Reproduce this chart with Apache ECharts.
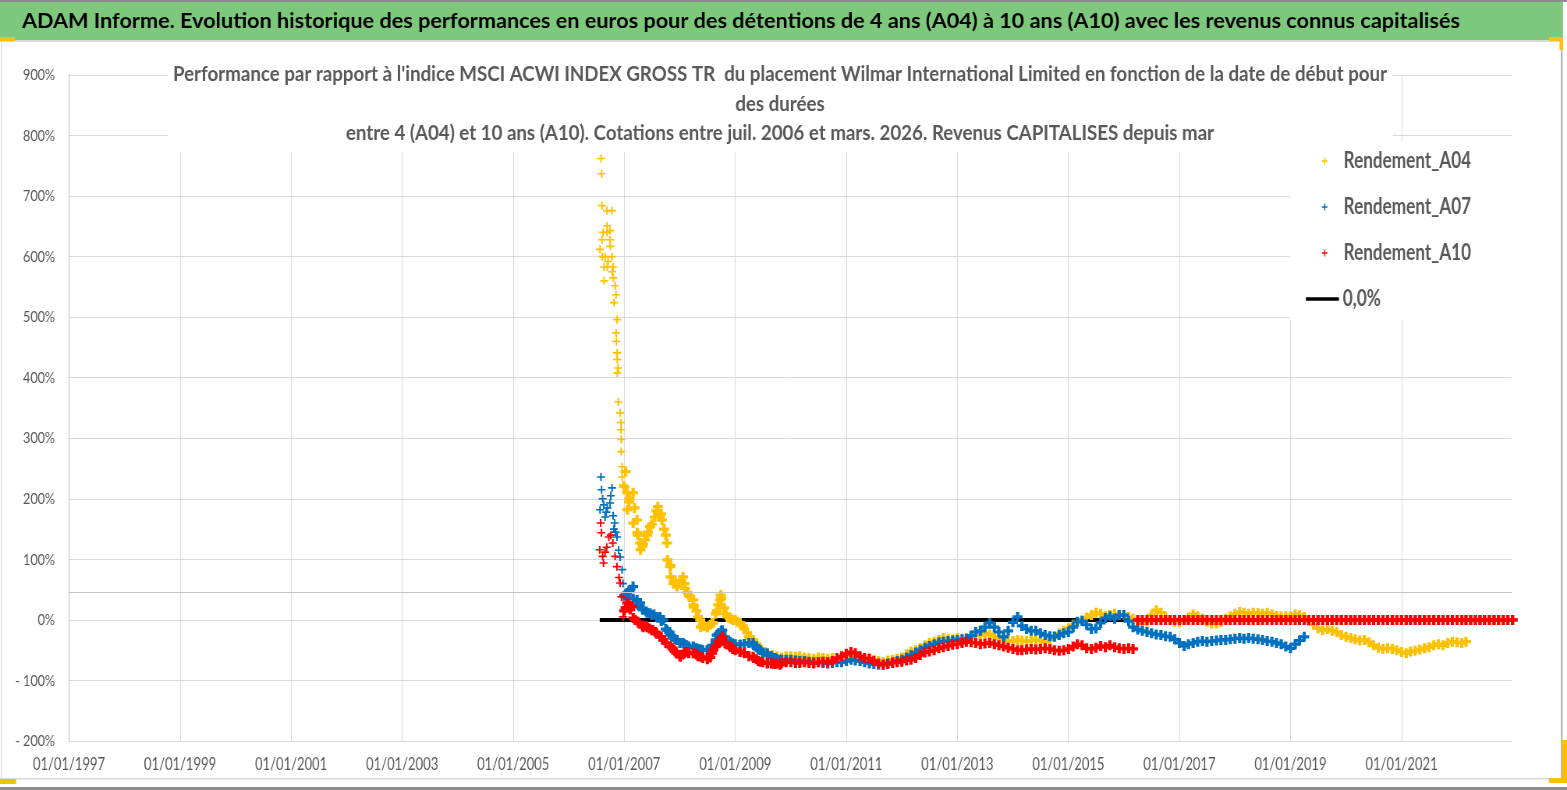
<!DOCTYPE html>
<html>
<head>
<meta charset="utf-8">
<title>ADAM Informe - Wilmar International Limited</title>
<script src="https://cdn.jsdelivr.net/npm/echarts@6/dist/echarts.min.js"></script>
<style>
    html, body { margin: 0; padding: 0; background: #fff; overflow: hidden; }
    /* the original picture is horizontally squeezed: draw wider, then squeeze */
    #chart { width: 2008.97px; height: 790px; transform: scaleX(0.78); transform-origin: 0 0; }
</style>
</head>
<body>
<div id="chart"></div>
<script>
// ---- data ----
var AXIS_START_YEAR = 1997;          // x axis starts 01/01/1997, one tick every 2 years
var X_MAX_YEARS = 25.99;
var Y_MIN = -200, Y_MAX = 900, Y_STEP = 100;
var seriesNames = ['Rendement_A04', 'Rendement_A07', 'Rendement_A10', '0,0%'];
var seriesColors = ['#FFC000', '#0070C0', '#FF0000', '#000000'];

// sparse points of the first months (jul. - dec. 2006)
var a04Early = [
    ['2006-07-26', 612], ['2006-08-02', 762], ['2006-08-05', 737], ['2006-08-08', 684], ['2006-08-08', 628],
    ['2006-08-10', 600], ['2006-08-15', 640], ['2006-08-21', 583], ['2006-08-22', 560], ['2006-08-28', 600],
    ['2006-09-10', 676], ['2006-09-10', 651], ['2006-09-11', 640], ['2006-09-12', 583], ['2006-09-17', 592],
    ['2006-09-30', 643], ['2006-09-30', 628], ['2006-10-01', 617], ['2006-10-13', 676], ['2006-10-13', 600],
    ['2006-10-14', 575], ['2006-10-20', 583], ['2006-10-21', 565], ['2006-10-26', 524], ['2006-11-02', 552],
    ['2006-11-08', 537], ['2006-11-09', 474], ['2006-11-10', 460], ['2006-11-15', 496], ['2006-11-15', 441],
    ['2006-11-16', 430], ['2006-11-17', 408], ['2006-11-22', 416], ['2006-11-23', 360], ['2006-12-05', 342],
    ['2006-12-11', 326], ['2006-12-11', 314], ['2006-12-12', 298], ['2006-12-12', 278], ['2006-12-18', 253],
    ['2006-12-18', 236], ['2006-12-24', 223]
];
var a07Early = [
    ['2006-07-26', 182], ['2006-08-01', 236], ['2006-08-05', 215], ['2006-08-12', 200], ['2006-08-20', 190],
    ['2006-08-28', 170], ['2006-09-05', 178], ['2006-09-12', 185], ['2006-09-30', 193], ['2006-10-05', 205],
    ['2006-10-13', 218], ['2006-10-20', 172], ['2006-10-25', 150], ['2006-10-30', 160], ['2006-11-05', 145],
    ['2006-11-15', 137], ['2006-11-25', 115], ['2006-12-05', 104], ['2006-12-18', 83], ['2006-12-24', 60]
];
var a10Early = [
    ['2006-07-24', 116], ['2006-07-30', 160], ['2006-08-04', 144], ['2006-08-12', 105], ['2006-08-18', 94],
    ['2006-08-28', 112], ['2006-09-08', 120], ['2006-09-22', 137], ['2006-10-05', 140], ['2006-10-18', 127],
    ['2006-11-02', 105], ['2006-11-14', 88], ['2006-11-28', 70], ['2006-12-05', 61], ['2006-12-14', 38],
    ['2006-12-24', 5]
];

// extra points where the clouds are thick (2007 - 2009)
var a04Dense = [
    ['2007-01-10', 245], ['2007-01-20', 210], ['2007-01-22', 182], ['2007-02-05', 200], ['2007-02-28', 210],
    ['2007-03-10', 185], ['2007-03-26', 165], ['2007-03-28', 144], ['2007-04-15', 127], ['2007-04-18', 116],
    ['2007-05-05', 125], ['2007-05-18', 132], ['2007-06-05', 145], ['2007-06-20', 154], ['2007-07-20', 170],
    ['2007-08-10', 187], ['2007-08-24', 170], ['2007-09-06', 165], ['2007-09-20', 150], ['2007-10-09', 127],
    ['2007-10-12', 99], ['2007-10-30', 88], ['2007-11-02', 71], ['2007-11-20', 60], ['2007-12-14', 55],
    ['2008-01-10', 65], ['2008-01-23', 71], ['2008-02-05', 52], ['2008-02-20', 45], ['2008-03-10', 38],
    ['2008-03-30', 33], ['2008-04-02', 21], ['2008-04-20', 15], ['2008-05-15', 0], ['2008-05-18', -12],
    ['2008-06-10', -10], ['2008-07-01', -12], ['2008-07-20', -8], ['2008-08-08', -5], ['2008-08-25', 10],
    ['2008-09-10', 25], ['2008-09-23', 33], ['2008-09-28', 41], ['2008-10-20', 20], ['2008-11-09', 5],
    ['2008-11-25', 3], ['2008-12-16', 0], ['2009-01-15', -3], ['2009-02-02', -5], ['2009-02-20', -10],
    ['2009-03-20', -21], ['2009-04-10', -30], ['2009-04-28', -33], ['2009-05-20', -40], ['2009-06-15', -48],
    ['2009-07-15', -53]
];
var a07Dense = [
    ['2007-01-20', 38], ['2007-02-10', 50], ['2007-02-28', 55], ['2007-03-26', 33], ['2007-04-15', 28],
    ['2007-05-05', 17], ['2007-05-25', 14], ['2007-06-20', 11], ['2007-07-15', 9], ['2007-08-24', 5],
    ['2007-09-15', 0], ['2007-10-09', -17], ['2007-10-25', -20], ['2007-11-15', -28], ['2007-12-14', -33],
    ['2008-01-23', -38], ['2008-02-15', -42], ['2008-03-30', -44], ['2008-04-20', -47], ['2008-05-20', -49],
    ['2008-07-01', -50], ['2008-07-20', -48], ['2008-08-08', -44], ['2008-08-25', -33], ['2008-09-15', -22],
    ['2008-10-07', -17], ['2008-10-25', -28], ['2008-11-29', -36], ['2008-12-15', -39], ['2009-02-02', -41],
    ['2009-03-01', -40], ['2009-04-28', -38], ['2009-05-20', -45], ['2009-06-15', -50], ['2009-07-30', -55],
    ['2009-08-25', -60], ['2009-09-20', -63], ['2009-10-23', -66]
];
var a10Dense = [
    ['2007-01-10', 20], ['2007-01-20', 28], ['2007-02-09', 17], ['2007-02-20', 22], ['2007-03-14', 0],
    ['2007-04-05', -5], ['2007-05-05', -12], ['2007-05-25', -10], ['2007-06-15', -14], ['2007-07-09', -17],
    ['2007-07-25', -20], ['2007-08-24', -28], ['2007-09-15', -33], ['2007-10-30', -44], ['2007-11-15', -47],
    ['2007-12-10', -55], ['2008-01-04', -61], ['2008-01-20', -57], ['2008-02-10', -53], ['2008-03-30', -55],
    ['2008-04-20', -57], ['2008-05-20', -61], ['2008-07-01', -63], ['2008-07-20', -62], ['2008-08-08', -50],
    ['2008-08-25', -44], ['2008-09-15', -36], ['2008-10-07', -28], ['2008-10-25', -38], ['2008-11-29', -44],
    ['2008-12-15', -48], ['2009-02-02', -53], ['2009-03-01', -54], ['2009-04-28', -61], ['2009-05-20', -65],
    ['2009-06-15', -69], ['2009-07-30', -72], ['2009-08-25', -72], ['2009-09-20', -73], ['2009-10-23', -74]
];

// one value per month (1st of month), from 2007-01 to 2023-01
var monthlyStart = '2007-01';
var a04Monthly = [
    220, 195, 160, 140, 122, 140, 158, 180, 175, 140, 90, 65,
    60, 60, 40, 25, 5, -8, -12, -5, 15, 35, 10, 2,
    0, -5, -15, -28, -35, -45, -52, -56, -58, -60, -62, -60,
    -60, -61, -60, -62, -63, -64, -62, -63, -64, -63, -65, -64,
    -63, -60, -62, -64, -65, -64, -66, -68, -70, -67, -66, -64,
    -62, -57, -52, -50, -47, -42, -38, -36, -33, -30, -31, -32,
    -30, -31, -30, -28, -26, -25, -22, -24, -27, -30, -33, -34,
    -35, -33, -34, -35, -34, -33, -34, -36, -32, -27, -22, -18,
    -14, -8, -4, 0, 4, 8, 12, 10, 6, 8, 10, 8,
    8, 5, 2, 0, -6, -3, 8, 16, 12, 5, 0, -3,
    -4, 0, 4, 9, 6, 2, -3, -6, -6, -3, 2, 6,
    10, 13, 12, 10, 12, 11, 10, 12, 9, 7, 6, 6,
    6, 9, 8, 5, -2, -8, -14, -17, -15, -18, -20, -25,
    -28, -30, -32, -34, -33, -37, -42, -46, -48, -47, -48, -50,
    -53, -55, -52, -51, -49, -47, -45, -42, -40, -42, -38, -36,
    -37, -38, -36, 0, 0, 0, 0, 0, 0, 0, 0, 0,
    0
];
var a07Monthly = [
    40, 48, 35, 25, 17, 12, 8, 5, -2, -15, -25, -32,
    -38, -40, -44, -46, -48, -50, -50, -42, -25, -18, -34, -38,
    -40, -41, -40, -38, -42, -48, -55, -58, -62, -65, -66, -66,
    -66, -67, -68, -68, -69, -70, -70, -71, -72, -71, -70, -70,
    -68, -66, -67, -68, -70, -72, -73, -74, -74, -72, -70, -68,
    -66, -62, -58, -54, -50, -46, -43, -40, -37, -36, -35, -34,
    -33, -32, -31, -26, -20, -18, -12, -5, -12, -20, -28, -18,
    -4, 5, -10, -15, -18, -18, -22, -25, -27, -28, -25, -22,
    -20, -12, -3, -2, -8, -15, -14, -5, 3, 6, 2, 8,
    8, -2, -12, -16, -18, -20, -22, -24, -25, -27, -28, -32,
    -38, -43, -40, -38, -36, -35, -36, -35, -34, -33, -33, -32,
    -31, -30, -31, -30, -31, -32, -33, -35, -36, -38, -40, -44,
    -47, -40, -34, -28, 0, 0, 0, 0, 0, 0, 0, 0,
    0, 0, 0, 0, 0, 0, 0, 0, 0, 0, 0, 0,
    0, 0, 0, 0, 0, 0, 0, 0, 0, 0, 0, 0,
    0, 0, 0, 0, 0, 0, 0, 0, 0, 0, 0, 0,
    0
];
var a10Monthly = [
    15, 25, 3, -3, -10, -12, -17, -22, -28, -38, -44, -52,
    -58, -55, -55, -55, -60, -63, -65, -55, -42, -32, -40, -45,
    -50, -53, -55, -60, -63, -68, -70, -71, -72, -72, -71, -70,
    -70, -71, -71, -70, -71, -72, -70, -69, -70, -68, -63, -60,
    -56, -53, -55, -60, -63, -64, -68, -72, -74, -73, -71, -70,
    -69, -67, -66, -63, -58, -54, -52, -50, -47, -45, -43, -41,
    -40, -38, -36, -37, -38, -40, -39, -38, -40, -42, -44, -46,
    -48, -50, -50, -49, -48, -49, -48, -47, -48, -50, -51, -50,
    -48, -44, -40, -42, -47, -48, -46, -43, -45, -42, -45, -47,
    -48, -47, -48, 0, 0, 0, 0, 0, 0, 0, 0, 0,
    0, 0, 0, 0, 0, 0, 0, 0, 0, 0, 0, 0,
    0, 0, 0, 0, 0, 0, 0, 0, 0, 0, 0, 0,
    0, 0, 0, 0, 0, 0, 0, 0, 0, 0, 0, 0,
    0, 0, 0, 0, 0, 0, 0, 0, 0, 0, 0, 0,
    0, 0, 0, 0, 0, 0, 0, 0, 0, 0, 0, 0,
    0, 0, 0, 0, 0, 0, 0, 0, 0, 0, 0, 0,
    0
];
var zeroLine = [['2006-07-24', 0], ['2023-01-20', 0]];
var greyRuleValue = 46;   // stray grey rule crossing the plot in the original

var bannerText = 'ADAM Informe. Evolution historique des performances en euros pour des détentions de 4 ans (A04) à 10 ans (A10) avec les revenus connus capitalisés';
var titleLines = [
    "Performance par rapport à l'indice MSCI ACWI INDEX GROSS TR  du placement Wilmar International Limited en fonction de la date de début pour",
    'des durées',
    'entre 4 (A04) et 10 ans (A10). Cotations entre juil. 2006 et mars. 2026. Revenus CAPITALISES depuis mar'
];

// ---- helpers ----
var K = 0.78;                       // horizontal squeeze of the page
function X(px) { return px / K; }   // screen x -> chart x

var FONT = 'Lato';
var ctx = document.createElement('canvas').getContext('2d');

function textWidth(text, weight, size) {
    ctx.font = weight + ' ' + size + 'px "' + FONT + '", sans-serif';
    return ctx.measureText(text).width;
}
// font size that makes a text as wide (on screen) as in the picture
function fitSize(text, weight, width) {
    return Math.round(100 * X(width) / textWidth(text, weight, 100) * 10) / 10;
}

function yearOffset(str) {
    var p = str.split('-').map(Number);
    var y = p[0], t = Date.UTC(y, (p[1] || 1) - 1, p[2] || 1);
    var t0 = Date.UTC(y, 0, 1), t1 = Date.UTC(y + 1, 0, 1);
    return y - AXIS_START_YEAR + (t - t0) / (t1 - t0);
}

function monthDate(start, i) {
    var p = start.split('-').map(Number);
    var m = p[1] - 1 + i;
    var mm = m % 12 + 1;
    return (p[0] + Math.floor(m / 12)) + '-' + (mm < 10 ? '0' : '') + mm + '-01';
}

var PLUS_THIN = 'path://M4,0H6V4H10V6H6V10H4V6H0V4H4Z';
var PLUS = 'path://M3.4,0H6.6V3.4H10V6.6H6.6V10H3.4V6.6H0V3.4H3.4Z';

function buildPoints(early, dense, monthly) {
    var pts = early.map(function (d) {
        return { value: [yearOffset(d[0]), d[1]], symbol: PLUS_THIN, symbolSize: [X(8), 8] };
    });
    dense.forEach(function (d) { pts.push([yearOffset(d[0]), d[1]]); });
    monthly.forEach(function (v, i) {
        pts.push([yearOffset(monthDate(monthlyStart, i)), v]);
    });
    return pts;
}

var sizeTitle = 20;
var sizeBanner = 21;
var sizeLegend = 22;
var sizeX = fitSize('01/01/1997', 'normal', 72);
var sizeY = fitSize('100%', 'normal', 32);

function scatterSeries(idx, early, dense, monthly) {
    return {
        name: seriesNames[idx],
        type: 'scatter',
        z: 2 + idx,
        clip: false,
        symbol: PLUS,
        symbolSize: [X(10), 10],
        itemStyle: { color: seriesColors[idx], opacity: 1 },
        data: buildPoints(early, dense, monthly),
        silent: true
    };
}

// ---- chart ----
var chart = echarts.init(document.getElementById('chart'), null, { renderer: 'canvas' });

function box(x, y, w, h, fill, z) {
    return { type: 'rect', z: z || 100, shape: { x: X(x), y: y, width: X(w), height: h }, style: { fill: fill } };
}

var graphics = [
    // outer frame and banner
    box(0, 0, 1567, 2, '#8c8c8c'),
    box(0, 2, 1563, 38, '#7ec87e'),
    box(0, 40, 1563, 2, '#d9d9d9'),
    box(1, 42, 1, 736, '#d9d9d9'),
    box(1561, 42, 1.5, 736, '#a6a6a6'),
    box(0, 778, 1563, 1.5, '#d9d9d9'),
    box(0, 787, 1567, 3, '#8c8c8c'),
    // selection handles
    box(0, 37, 15, 4, '#FFC000', 101),
    box(1549, 37, 14, 4, '#FFC000', 101),
    box(1559.5, 37, 3.5, 13, '#FFC000', 101),
    box(0, 779, 16, 5, '#FFC000', 101),
    box(1549, 778, 18, 5, '#FFC000', 101),
    box(1562, 740, 5, 43, '#FFC000', 101),
    // white boxes behind the chart title and the legend
    box(168, 60, 1225, 92, '#fff'),
    box(1290, 142, 222, 178, '#fff'),
    // banner text
    {
        type: 'text', z: 102, x: X(22), y: 21,
        scaleX: X(1438) / textWidth(bannerText, 'bold', sizeBanner),
        style: {
            text: bannerText, fill: '#000', textVerticalAlign: 'middle',
            font: 'bold ' + sizeBanner + 'px "' + FONT + '"'
        }
    }
];
titleLines.forEach(function (line, i) {
    graphics.push({
        type: 'text', z: 102, x: X(780), y: 75 + i * 29.5,
        scaleX: X(1214) / textWidth(titleLines[0], 'bold', sizeTitle),
        style: {
            text: line, fill: '#595959', textAlign: 'center', textVerticalAlign: 'middle',
            font: 'bold ' + sizeTitle + 'px "' + FONT + '"'
        }
    });
});

var option = {
    animation: false,
    backgroundColor: '#fff',
    textStyle: { fontFamily: FONT },
    grid: { left: X(69), top: 75, width: X(1443), height: 666, containLabel: false },
    legend: [
        {
            z: 200, orient: 'vertical', left: X(1318), top: 145,
            itemWidth: X(30), itemHeight: 7, itemGap: 24,
            textStyle: { color: '#595959', fontSize: sizeLegend, fontWeight: 'bold', fontFamily: FONT },
            data: [
                { name: seriesNames[0], icon: PLUS_THIN },
                { name: seriesNames[1], icon: PLUS_THIN },
                { name: seriesNames[2], icon: PLUS_THIN }
            ]
        },
        {
            z: 200, orient: 'vertical', left: X(1302), top: 283,
            itemWidth: X(33), itemHeight: 3.5,
            textStyle: { color: '#595959', fontSize: sizeLegend, fontWeight: 'bold', fontFamily: FONT },
            data: [{ name: seriesNames[3], icon: 'rect' }]
        }
    ],
    xAxis: {
        type: 'value',
        min: 0,
        max: X_MAX_YEARS,
        interval: 2,
        axisLine: { show: false },
        axisTick: { show: false },
        axisLabel: {
            color: '#595959', fontSize: sizeX, fontFamily: FONT, margin: 15,
            showMaxLabel: false,
            formatter: function (v) { return '01/01/' + (AXIS_START_YEAR + Math.round(v)); }
        },
        splitLine: { show: true, showMaxLine: false, lineStyle: { color: '#d9d9d9', width: 1 } }
    },
    yAxis: {
        type: 'value',
        min: Y_MIN,
        max: Y_MAX,
        interval: Y_STEP,
        axisLine: { show: true, lineStyle: { color: '#bfbfbf', width: 1 } },
        axisTick: { show: false },
        axisLabel: {
            color: '#595959', fontSize: sizeY, fontFamily: FONT, margin: X(14),
            formatter: function (v) { return v < 0 ? '- ' + (-v) + '%' : v + '%'; }
        },
        splitLine: { show: true, lineStyle: { color: '#d9d9d9', width: 1 } }
    },
    graphic: graphics,
    series: [
        {
            name: seriesNames[3],
            type: 'line',
            z: 1,
            symbol: 'none',
            color: seriesColors[3],
            lineStyle: { color: seriesColors[3], width: 4 },
            data: zeroLine.map(function (d) { return [yearOffset(d[0]), d[1]]; }),
            silent: true,
            markLine: {
                silent: true,
                symbol: 'none',
                label: { show: false },
                lineStyle: { color: '#c4c4c4', width: 1, type: 'solid' },
                data: [{ yAxis: greyRuleValue }]
            }
        },
        scatterSeries(0, a04Early, a04Dense, a04Monthly),
        scatterSeries(1, a07Early, a07Dense, a07Monthly),
        scatterSeries(2, a10Early, a10Dense, a10Monthly)
    ]
};

chart.setOption(option);
</script>
</body>
</html>
